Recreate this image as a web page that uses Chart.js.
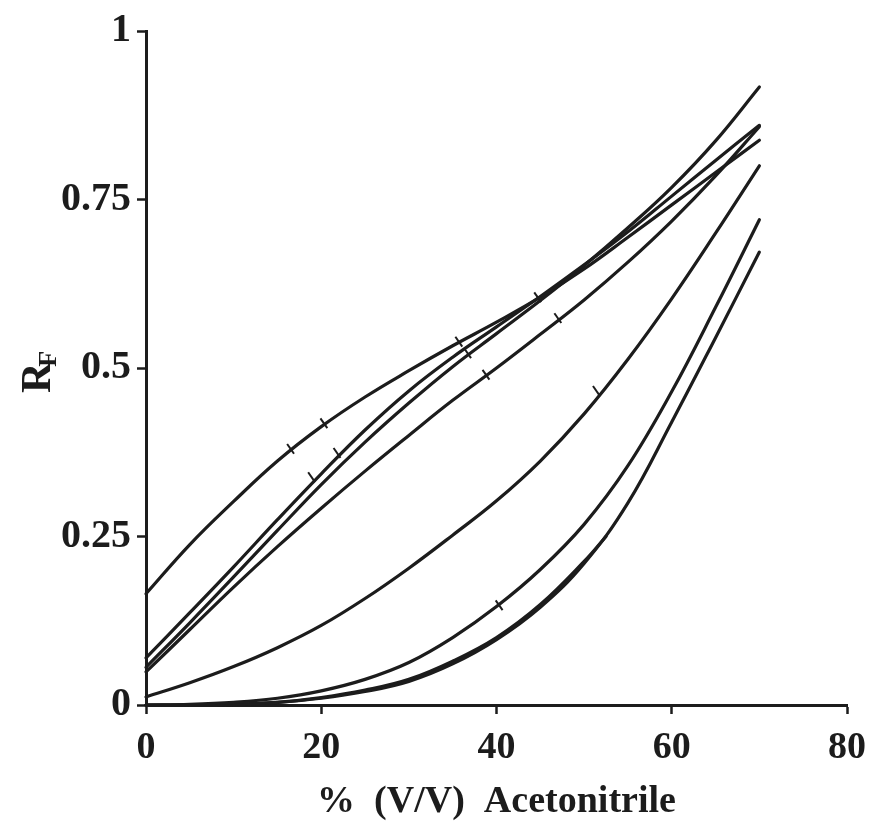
<!DOCTYPE html>
<html>
<head>
<meta charset="utf-8">
<script src="https://cdn.jsdelivr.net/npm/chart.js@4.4.1/dist/chart.umd.min.js"></script>
<style>
  body { margin: 0; background: #ffffff; }
  #wrap { width: 871px; height: 831px; position: relative; }
</style>
</head>
<body>
<div id="wrap"><canvas id="rfChart"></canvas></div>
<script>
// % acetonitrile (x) and Rf readings of each curve
const xPct = [0, 5, 10, 15, 20, 25, 30, 35, 40, 45, 50, 55, 60, 65, 70];
const curveA = [0.165, 0.238, 0.302, 0.362, 0.413, 0.457, 0.496, 0.533, 0.568, 0.605, 0.647, 0.694, 0.742, 0.79, 0.838];
const curveB = [0.07, 0.137, 0.205, 0.275, 0.343, 0.408, 0.466, 0.516, 0.561, 0.606, 0.653, 0.702, 0.755, 0.808, 0.86];
const curveC = [0.056, 0.122, 0.19, 0.259, 0.327, 0.39, 0.448, 0.502, 0.551, 0.6, 0.652, 0.708, 0.768, 0.837, 0.917];
const curveD = [0.049, 0.112, 0.175, 0.235, 0.292, 0.347, 0.4, 0.452, 0.5, 0.55, 0.601, 0.657, 0.718, 0.785, 0.858];
const curveE = [0.012, 0.033, 0.057, 0.085, 0.118, 0.158, 0.203, 0.252, 0.303, 0.362, 0.432, 0.513, 0.603, 0.7, 0.8];
const curveF = [0, 0.001, 0.004, 0.01, 0.021, 0.038, 0.063, 0.1, 0.146, 0.201, 0.268, 0.355, 0.465, 0.59, 0.72];
const curveH = [0, 0, 0.001, 0.004, 0.01, 0.02, 0.035, 0.061, 0.097, 0.145, 0.21, 0.3, 0.42, 0.545, 0.672];
// short curve that stops near 52 %
const xShort = [0, 5, 10, 15, 20, 25, 30, 35, 40, 45, 50, 52.5];
const curveG = [0, 0, 0.001, 0.004, 0.011, 0.022, 0.038, 0.065, 0.1, 0.149, 0.213, 0.25];
// little hash marks drawn across some curves
const markX = [16.5, 20.3, 35.7, 44.7, 18.9, 21.8, 36.7, 38.8, 47, 51.4, 40.3];
const markY = [0.38, 0.418, 0.539, 0.605, 0.338, 0.374, 0.522, 0.49, 0.574, 0.466, 0.148];

const xTicks = [0, 20, 40, 60, 80];
const yTicks = [0, 0.25, 0.5, 0.75, 1];
const yTickLabels = ['0', '0.25', '0.5', '0.75', '1'];

const ink = '#1c1c1c';
const serif = '"Liberation Serif", "Times New Roman", serif';

function toPoints(xs, ys) {
  return xs.map(function (x, i) { return { x: x, y: ys[i] }; });
}

function curve(xs, ys) {
  return {
    data: toPoints(xs, ys),
    borderColor: ink,
    borderWidth: 3.2,
    pointRadius: 0,
    tension: 0.4,
    borderCapStyle: 'round',
    fill: false,
    clip: false
  };
}

const datasets = [
  curve(xPct, curveA),
  curve(xPct, curveB),
  curve(xPct, curveC),
  curve(xPct, curveD),
  curve(xPct, curveE),
  curve(xPct, curveF),
  curve(xPct, curveH),
  curve(xShort, curveG),
  {
    data: toPoints(markX, markY),
    showLine: false,
    pointStyle: 'line',
    pointRadius: 6,
    pointRotation: 55,
    pointBorderWidth: 2,
    pointBorderColor: ink,
    borderColor: ink,
    clip: false
  }
];

// y axis title: R with subscript F, rotated
const rfTitle = {
  id: 'rfTitle',
  afterDraw(chart) {
    const ctx = chart.ctx;
    ctx.save();
    ctx.translate(50, 393);
    ctx.rotate(-Math.PI / 2);
    ctx.fillStyle = ink;
    ctx.font = 'bold 42px ' + serif;
    ctx.fillText('R', 0, 0);
    const w = ctx.measureText('R').width;
    ctx.font = 'bold 26px ' + serif;
    ctx.fillText('F', w - 4, 6);
    ctx.restore();
  }
};

const config = {
  type: 'line',
  data: { datasets: datasets },
  plugins: [rfTitle],
  options: {
    responsive: true,
    maintainAspectRatio: false,
    animation: false,
    layout: { padding: { top: 31, right: 0, left: 0, bottom: 0 } },
    plugins: { legend: { display: false }, tooltip: { enabled: false } },
    scales: {
      x: {
        type: 'linear',
        min: 0,
        max: 80,
        afterBuildTicks: function (scale) { scale.ticks = xTicks.map(function (v) { return { value: v }; }); },
        afterFit: function (scale) {
          scale.height = 126;
          scale.paddingRight = 24;
          scale.paddingLeft = 0;
        },
        border: { display: true, color: ink, width: 3 },
        grid: { display: true, drawOnChartArea: false, drawTicks: true, tickLength: 9, tickColor: ink, tickWidth: 2.5 },
        ticks: { color: ink, padding: 11, maxRotation: 0, font: { family: serif, size: 38, weight: 'bold' } },
        title: {
          display: true,
          text: '%  (V/V)  Acetonitrile',
          color: ink,
          padding: { top: 0, bottom: 6 },
          font: { family: serif, size: 38, weight: 'bold' }
        }
      },
      y: {
        type: 'linear',
        min: 0,
        max: 1,
        afterBuildTicks: function (scale) { scale.ticks = yTicks.map(function (v) { return { value: v }; }); },
        afterFit: function (scale) { scale.width = 146; },
        border: { display: true, color: ink, width: 3 },
        grid: { display: true, drawOnChartArea: false, drawTicks: true, tickLength: 9, tickColor: ink, tickWidth: 2.5 },
        ticks: {
          color: ink,
          padding: 6,
          font: { family: serif, size: 40, weight: 'bold' },
          callback: function (value) {
            const i = yTicks.indexOf(value);
            return i >= 0 ? yTickLabels[i] : '';
          }
        }
      }
    }
  }
};

const rfChart = new Chart(document.getElementById('rfChart').getContext('2d'), config);
</script>
</body>
</html>
